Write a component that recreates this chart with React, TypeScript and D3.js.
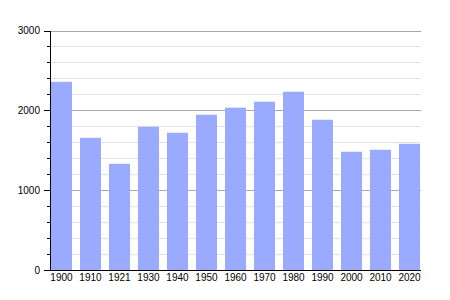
import React from "react";
import * as d3 from "d3";

const years = ["1900", "1910", "1921", "1930", "1940", "1950", "1960", "1970", "1980", "1990", "2000", "2010", "2020"];
const population = [2357, 1656, 1330, 1794, 1719, 1945, 2033, 2108, 2233, 1882, 1481, 1506, 1581];
const majorTicks = [0, 1000, 2000, 3000];
const minorTicks = d3.range(0, 3001, 200);

const W = 450;
const H = 300;
const left = 50;
const right = 420;
const top = 30.5;
const bottom = 270;

export default function App() {
  const x = d3.scaleBand<string>().domain(years).range([left + 1, right]).paddingInner(0.276).paddingOuter(0);
  const y = d3.scaleLinear().domain([0, 3000]).range([bottom, top]);
  const font = "Liberation Sans, Arial, Helvetica, sans-serif";
  return (
    <svg width={W} height={H} style={{ position: "absolute", left: 0, top: 0 }}>
      <rect x={0} y={0} width={W} height={H} fill="#fff" />
      {minorTicks.filter((t) => t % 1000 !== 0).map((t) => (
        <line key={"mg" + t} x1={left} x2={right + 1} y1={Math.round(y(t)) + 0.5} y2={Math.round(y(t)) + 0.5} stroke="#e2e2e2" strokeWidth={1} />
      ))}
      {majorTicks.filter((t) => t > 0).map((t) => (
        <line key={"Mg" + t} x1={left} x2={right + 1} y1={Math.round(y(t)) + 0.5} y2={Math.round(y(t)) + 0.5} stroke="#a8a8a8" strokeWidth={1} />
      ))}
      {years.map((yr, i) => (
        <rect key={yr} x={x(yr)} y={y(population[i])} width={x.bandwidth()} height={bottom - y(population[i])} fill="#99aaff" />
      ))}
      {minorTicks.filter((t) => t % 1000 !== 0).map((t) => (
        <line key={"mt" + t} x1={left - 3} x2={left} y1={Math.round(y(t)) + 0.5} y2={Math.round(y(t)) + 0.5} stroke="#000" strokeWidth={1} />
      ))}
      {majorTicks.map((t) => (
        <line key={"Mt" + t} x1={left - 6} x2={left} y1={Math.round(y(t)) + 0.5} y2={Math.round(y(t)) + 0.5} stroke="#000" strokeWidth={1} />
      ))}
      <line x1={left + 0.5} x2={left + 0.5} y1={Math.round(top)} y2={bottom + 1} stroke="#000" strokeWidth={1} />
      <line x1={left} x2={right + 1} y1={bottom + 0.5} y2={bottom + 0.5} stroke="#000" strokeWidth={1} />
      {majorTicks.map((t) => (
        <text key={"yl" + t} x={40} y={y(t) + 3.6} textAnchor="end" fontSize={10} fontFamily={font} fill="#000">
          {t}
        </text>
      ))}
      {years.map((yr) => (
        <text key={"xl" + yr} x={(x(yr) as number) + x.bandwidth() / 2} y={281} textAnchor="middle" fontSize={10} fontFamily={font} fill="#000">
          {yr}
        </text>
      ))}
    </svg>
  );
}
